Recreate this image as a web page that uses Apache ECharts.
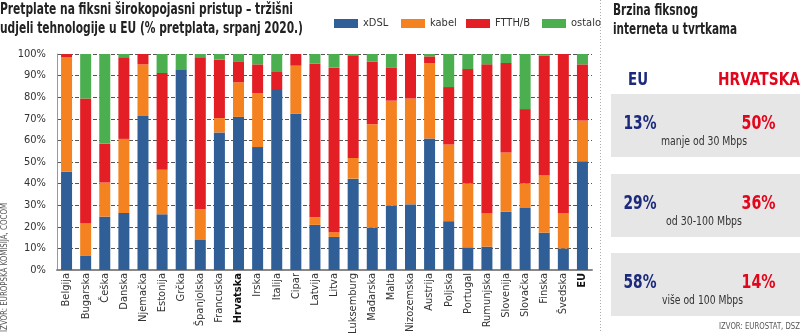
<!DOCTYPE html>
<html>
<head>
<meta charset="utf-8">
<script src="https://cdn.jsdelivr.net/npm/echarts@6/dist/echarts.min.js"></script>
<style>
  html, body { margin: 0; padding: 0; background: #fff; }
  #chart { width: 800px; height: 333px; }
</style>
</head>
<body>
<div id="chart"></div>
<script>
// Fixed broadband subscriptions by technology, EU member states (% of subscriptions, July 2020)
const countries = ['Belgija','Bugarska','Češka','Danska','Njemačka','Estonija','Grčka','Španjolska','Francuska','Hrvatska','Irska','Italija','Cipar','Latvija','Litva','Luksemburg','Mađarska','Malta','Nizozemska','Austrija','Poljska','Portugal','Rumunjska','Slovenija','Slovačka','Finska','Švedska','EU'];
const xdsl   = [45.5, 6.5, 24.7, 26.4, 71.3, 25.8, 92.7, 13.9, 63.7, 70.9, 56.9, 83.8, 72.3, 20.9, 15.3, 42.3, 19.6, 29.8, 30.4, 60.9, 22.6, 10.5, 10.8, 27.0, 28.7, 17.3, 10.0, 50.4];
const kabel  = [53.1, 15.0, 15.8, 34.3, 23.9, 20.6, 0.0, 14.2, 6.6, 16.0, 25.0, 0.0, 22.3, 3.5, 2.2, 9.6, 47.9, 48.6, 49.0, 34.9, 35.5, 29.7, 15.5, 27.4, 11.5, 26.6, 16.4, 18.8];
const ftth   = [1.4, 57.9, 17.9, 37.8, 4.8, 44.8, 0.3, 70.4, 27.1, 9.7, 13.3, 8.2, 5.4, 71.1, 76.3, 47.5, 28.9, 15.4, 20.6, 3.1, 26.6, 52.8, 68.9, 41.4, 34.3, 55.3, 73.6, 26.0];
const ostalo = [0.0, 20.6, 41.6, 1.5, 0.0, 8.8, 7.0, 1.5, 2.6, 3.4, 4.8, 8.0, 0.0, 4.5, 6.2, 0.6, 3.6, 6.2, 0.0, 1.1, 15.3, 7.0, 4.8, 4.2, 25.5, 0.8, 0.0, 4.8];
const yTicks = ['0%','10%','20%','30%','40%','50%','60%','70%','80%','90%','100%'];
const highlighted = ['Hrvatska', 'EU'];
const legendNames = ['xDSL', 'kabel', 'FTTH/B', 'ostalo'];

// Business internet speed panel
const speedBands = ['manje od 30 Mbps', 'od 30-100 Mbps', 'više od 100 Mbps'];
const euShares = [13, 29, 58];
const hrShares = [50, 36, 14];

const FONT = '"DejaVu Sans Condensed", "DejaVu Sans", sans-serif';
const COLORS = { xDSL: '#305f98', kabel: '#f58220', 'FTTH/B': '#e31e25', ostalo: '#4bae4f' };
const NAVY = '#1c2a7e';
const RED = '#e3051b';

// Text measuring, used to squeeze headline text into a condensed width
const measureCtx = document.createElement('canvas').getContext('2d');
function fitScale(text, font, width) {
  measureCtx.font = font;
  return width / measureCtx.measureText(text).width;
}
// Left-anchored text block squeezed horizontally to a target width
function fittedText(text, font, x, y, width, fill, extra) {
  const el = {
    type: 'text', x: x, y: y, scaleX: fitScale(text, font, width), z: 3,
    style: { text: text, font: font, fill: fill, align: 'left', verticalAlign: 'middle' }
  };
  return Object.assign(el, extra || {});
}

const chart = echarts.init(document.getElementById('chart'), null, { renderer: 'canvas' });

function stackSeries(name, values) {
  return {
    name: name,
    type: 'bar',
    stack: 'total',
    barWidth: 11,
    data: values,
    itemStyle: { color: COLORS[name] },
    emphasis: { disabled: true }
  };
}

const TITLE_FONT = 'bold 15px ' + FONT;
const graphics = [];
// Chart headline
graphics.push(fittedText('Pretplate na fiksni širokopojasni pristup – tržišni', TITLE_FONT, 0, 10.5, 293, '#222'));
graphics.push(fittedText('udjeli tehnologije u EU (% pretplata, srpanj 2020.)', TITLE_FONT, 0, 29.5, 303, '#222'));

// Right-hand panel: headers, grey boxes and share figures
graphics.push(fittedText('Brzina fiksnog', TITLE_FONT, 613, 11, 85, '#222'));
graphics.push(fittedText('interneta u tvrtkama', TITLE_FONT, 613, 30, 124, '#222'));
const HEAD_FONT = 'bold 18px ' + FONT;
graphics.push(fittedText('EU', HEAD_FONT, 628, 80.5, 20, NAVY));
graphics.push(fittedText('HRVATSKA', HEAD_FONT, 718, 80.5, 82, RED));
const boxTops = [94, 174, 253];
const subLefts = [661, 666, 662];
const subWidths = [86, 76, 81];
const NUM_FONT = 'bold 20px ' + FONT;
const SUB_FONT = '12px ' + FONT;
speedBands.forEach(function (band, i) {
  const t = boxTops[i];
  graphics.push({ type: 'rect', shape: { x: 611, y: t, width: 189, height: 63 }, style: { fill: '#e6e6e6' }, z: 1 });
  graphics.push(fittedText(euShares[i] + '%', NUM_FONT, 623.5, t + 30, 33, NAVY));
  graphics.push(fittedText(hrShares[i] + '%', NUM_FONT, 741.5, t + 30, 34, RED));
  graphics.push(fittedText(band, SUB_FONT, subLefts[i], t + 48, subWidths[i], '#333'));
});
graphics.push(fittedText('IZVOR: EUROSTAT, DSZ', '9px ' + FONT, 719, 326.5, 81, '#555'));

// Dotted divider between the two panels
graphics.push({ type: 'line', shape: { x1: 600.5, y1: 0, x2: 600.5, y2: 333 }, style: { stroke: '#aaa', lineWidth: 1, lineDash: [1, 2] } });

// Source note on the left edge, reading upwards
graphics.push(fittedText('IZVOR: EUROPSKA KOMISIJA, COCOM', '9px ' + FONT, 5, 332, 129, '#555', { rotation: Math.PI / 2 }));

// One legend block per series so each key sits at its own spot
const legendLefts = [329, 396, 461, 537];
const legends = legendNames.map(function (name, i) {
  return {
    left: legendLefts[i], top: 13,
    itemWidth: 24, itemHeight: 9,
    icon: 'rect',
    textStyle: { fontFamily: FONT, fontSize: 11, color: '#333' },
    data: [name]
  };
});

chart.setOption({
  animation: false,
  textStyle: { fontFamily: FONT },
  legend: legends,
  grid: { left: 57, right: 208, top: 54, bottom: 63, containLabel: false, outerBoundsMode: 'none' },
  xAxis: {
    type: 'category',
    data: countries,
    axisLine: { lineStyle: { color: '#888', width: 2 } },
    axisTick: { show: false },
    axisLabel: {
      rotate: 90, interval: 0, margin: 3, fontSize: 11, color: '#333', fontFamily: FONT,
      formatter: function (v) { return highlighted.indexOf(v) >= 0 ? '{b|' + v + '}' : v; },
      rich: { b: { fontWeight: 'bold', fontSize: 11, color: '#111', fontFamily: FONT } }
    }
  },
  yAxis: {
    type: 'value', min: 0, max: 100, interval: 10,
    axisLine: { show: true, lineStyle: { color: '#999' } },
    axisTick: { show: false },
    axisLabel: { fontSize: 11, color: '#333', margin: 11, fontFamily: FONT, formatter: function (v) { return yTicks[v / 10]; } },
    splitLine: { lineStyle: { color: '#555', type: [4, 2], width: 1 } }
  },
  series: [
    stackSeries('xDSL', xdsl),
    stackSeries('kabel', kabel),
    stackSeries('FTTH/B', ftth),
    stackSeries('ostalo', ostalo)
  ],
  graphic: graphics
});
</script>
</body>
</html>
